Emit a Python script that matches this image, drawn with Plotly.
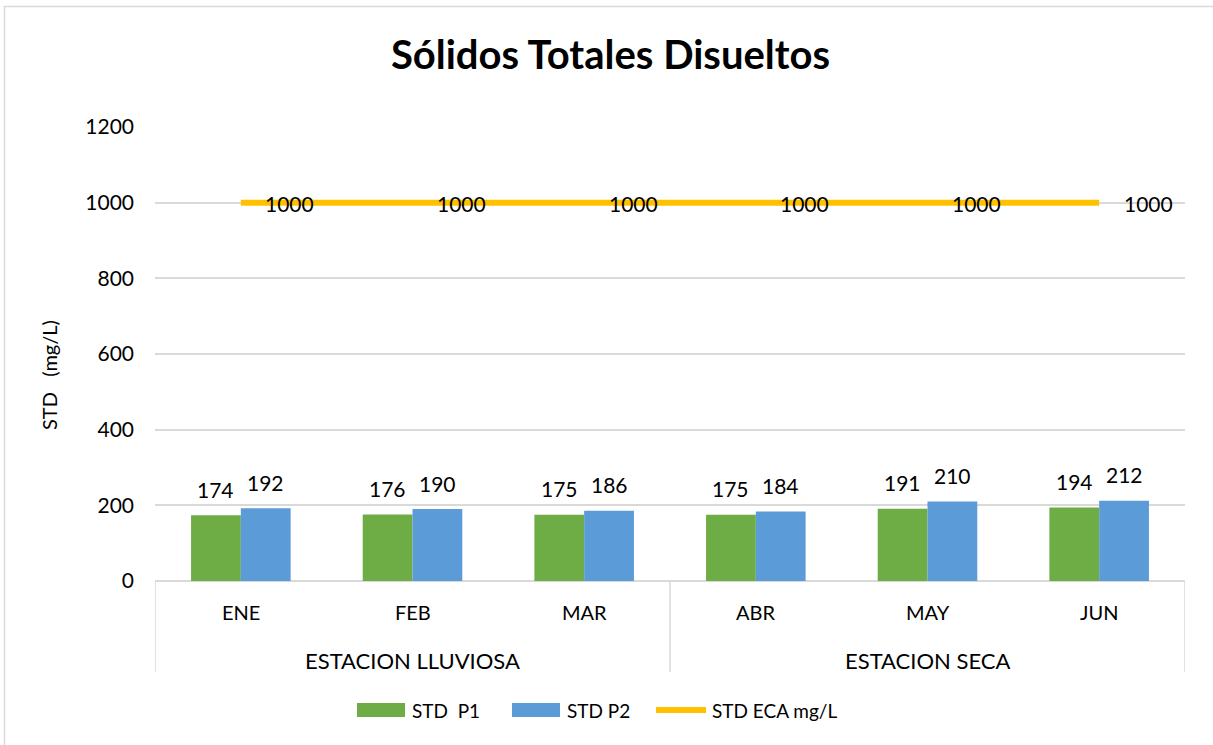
import plotly.graph_objects as go

months = ["ENE", "FEB", "MAR", "ABR", "MAY", "JUN"]
seasons = ["ESTACION LLUVIOSA", "ESTACION SECA"]
season_months = [["ENE", "FEB", "MAR"], ["ABR", "MAY", "JUN"]]
std_p1 = [174, 176, 175, 175, 191, 194]
std_p2 = [192, 190, 186, 184, 210, 212]
std_eca = [1000, 1000, 1000, 1000, 1000, 1000]
y_ticks = [0, 200, 400, 600, 800, 1000, 1200]

FONT = "Lato"
GREEN = "#6EAD45"
BLUE = "#5A9BD8"
YELLOW = "#FFC000"
GRID = "#D9D9D9"

W, H = 1213, 745
ML, MR, MT, MB = 155, 28, 127, 164
PW = W - ML - MR
PH = H - MT - MB


def px_x(px):
    return (px - ML) / PW


def px_y(py):
    return (H - MB - py) / PH


fig = go.Figure()
fig.add_trace(go.Bar(x=months, y=std_p1, name="STD  P1", marker=dict(color=GREEN, line=dict(width=0)),
                     showlegend=False))
fig.add_trace(go.Bar(x=months, y=std_p2, name="STD P2", marker=dict(color=BLUE, line=dict(width=0)),
                     showlegend=False))
fig.add_trace(go.Scatter(x=months, y=std_eca, name="STD ECA mg/L", mode="lines",
                         line=dict(color=YELLOW, width=6), showlegend=False))

annotations = []
for m, a, b, e in zip(months, std_p1, std_p2, std_eca):
    annotations.append(dict(x=m, y=a, text=str(a), showarrow=False, xshift=-25, yshift=26,
                            yanchor="middle", font=dict(family=FONT, size=21, color="#000")))
    annotations.append(dict(x=m, y=b, text=str(b), showarrow=False, xshift=25, yshift=26,
                            yanchor="middle", font=dict(family=FONT, size=21, color="#000")))
    annotations.append(dict(x=m, y=e, text=str(e), showarrow=False, xshift=49, yshift=-1,
                            yanchor="middle", font=dict(family=FONT, size=21, color="#000")))
    annotations.append(dict(x=m, y=px_y(612), yref="paper", text=m, showarrow=False,
                            yanchor="middle", font=dict(family=FONT, size=20, color="#000")))

for s, ms in zip(seasons, season_months):
    annotations.append(dict(x=(months.index(ms[0]) + months.index(ms[-1])) / 2, y=px_y(660), yref="paper",
                            text=s, showarrow=False, yanchor="middle",
                            font=dict(family=FONT, size=22, color="#000")))

# y-axis title
annotations.append(dict(x=px_x(49), y=px_y(375), xref="paper", yref="paper",
                        text="STD&nbsp;&nbsp;&nbsp;(mg/L)",
                        textangle=-90, showarrow=False, xanchor="center", yanchor="middle",
                        font=dict(family=FONT, size=20, color="#000")))

shapes = []
# category dividers
for xv in [-0.5, 2.5, 5.5]:
    shapes.append(dict(type="line", xref="x", yref="paper", x0=xv, x1=xv, y0=0, y1=px_y(672),
                       line=dict(color=GRID, width=1.5)))
# outer border
shapes.append(dict(type="rect", xref="paper", yref="paper", x0=px_x(4.5), x1=px_x(1230),
                   y0=px_y(6.5), y1=px_y(770), line=dict(color=GRID, width=1.5)))

# custom legend
legend_items = [("STD&nbsp; P1", GREEN, "rect", 357, 405, 410),
                ("STD P2", BLUE, "rect", 512, 560, 565),
                ("STD ECA mg/L", YELLOW, "line", 656, 706, 710)]
ly = 710
for name, col, kind, x0, x1, tx in legend_items:
    if kind == "rect":
        shapes.append(dict(type="rect", xref="paper", yref="paper", x0=px_x(x0), x1=px_x(x1),
                           y0=px_y(ly - 7), y1=px_y(ly + 7), fillcolor=col, line=dict(width=0)))
    else:
        shapes.append(dict(type="line", xref="paper", yref="paper", x0=px_x(x0), x1=px_x(x1),
                           y0=px_y(ly), y1=px_y(ly), line=dict(color=col, width=6)))
    annotations.append(dict(x=px_x(tx), y=px_y(ly), xref="paper", yref="paper", text=name,
                            xanchor="left", yanchor="middle", showarrow=False,
                            font=dict(family=FONT, size=19, color="#000")))

fig.update_layout(
    width=W, height=H,
    margin=dict(l=ML, r=MR, t=MT, b=MB, autoexpand=False),
    paper_bgcolor="white", plot_bgcolor="white",
    title=dict(text="<b>Sólidos Totales Disueltos</b>", x=610.5 / W, y=1 - 55 / H,
               xanchor="center", yanchor="middle",
               font=dict(family=FONT, size=40, color="#000")),
    barmode="group", bargap=0.42, bargroupgap=0,
    xaxis=dict(type="category", categoryorder="array", categoryarray=months, range=[-0.5, 5.5],
               showticklabels=False, showgrid=False, showline=False, zeroline=False, ticks=""),
    yaxis=dict(range=[0, 1200], tickvals=y_ticks, showgrid=True, gridcolor=GRID, gridwidth=1.5,
               zeroline=True, zerolinecolor=GRID, zerolinewidth=1.5, showline=False,
               ticks="", ticklabelstandoff=20,
               tickfont=dict(family=FONT, size=21, color="#000")),
    annotations=annotations,
    shapes=shapes,
    showlegend=False,
)

fig.write_html("out.html", config={"displayModeBar": False},
               post_script="document.body.style.margin='0';document.body.style.overflow='hidden';")
